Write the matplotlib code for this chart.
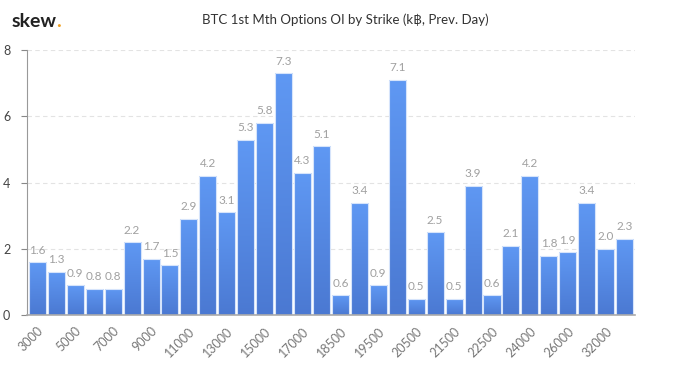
import numpy as np
import matplotlib
matplotlib.use("Agg")
from matplotlib import pyplot as plt
from matplotlib.colors import LinearSegmentedColormap

plt.rcParams['font.family'] = ['Lato', 'DejaVu Sans']

strikes = ["3000", "4000", "5000", "6000", "7000", "8000", "9000", "10000",
           "11000", "12000", "13000", "14000", "15000", "16000", "17000", "18000",
           "18500", "19000", "19500", "20000", "20500", "21000", "21500", "22000",
           "22500", "23000", "24000", "25000", "26000", "28000", "32000", "36000"]
oi = [1.6, 1.3, 0.9, 0.8, 0.8, 2.2, 1.7, 1.5, 2.9, 4.2, 3.1, 5.3, 5.8, 7.3, 4.3, 5.1,
      0.6, 3.4, 0.9, 7.1, 0.5, 2.5, 0.5, 3.9, 0.6, 2.1, 4.2, 1.8, 1.9, 3.4, 2.0, 2.3]
title = "BTC 1st Mth Options OI by Strike (k\u0E3F, Prev. Day)"

fig = plt.figure(figsize=(6.91, 3.66), dpi=100)
ax = fig.add_axes([0.039, 0.139, 0.880, 0.724])

x = np.arange(len(strikes))
bars = ax.bar(x, oi, width=0.9, color="#5b91ec", linewidth=0, zorder=2)

# vertical gradient inside each bar, lighter at the top
cmap = LinearSegmentedColormap.from_list("g", ["#4b79d2", "#5f98f3"])
grad = np.linspace(0, 1, 100).reshape(-1, 1)
for b in bars:
    bx, w, h = b.get_x(), b.get_width(), b.get_height()
    im = ax.imshow(grad, cmap=cmap, origin="lower", aspect="auto",
                   extent=[bx, bx + w, 0, h], zorder=2.5)
    im.set_clip_path(b)
ax.bar(x, oi, width=0.9, facecolor="none", edgecolor="#d6e4fb", linewidth=0.8, zorder=2.8)

for xi, v in zip(x, oi):
    ax.text(xi, v + 0.2, f"{v:.1f}", ha="center", va="bottom", fontsize=8.5, color="#a0a0a0", zorder=3)

ax.set_xlim(-0.55, len(strikes) - 0.45)
ax.set_ylim(0, 8)
ax.set_yticks([0, 2, 4, 6, 8])
ax.yaxis.grid(True, linestyle=(0, (4, 3)), color="#e3e3e3", linewidth=0.8, zorder=0)
ax.set_xticks(x[::2])
ax.set_xticklabels(strikes[::2], rotation=45, ha="right", rotation_mode="anchor",
                   fontsize=9, color="#777777")
ax.tick_params(axis="x", length=0, pad=7)
ax.tick_params(axis="y", length=4, color="#888888", labelsize=9, labelcolor="#444444", pad=8)
for s in ["top", "right"]:
    ax.spines[s].set_visible(False)
ax.spines["left"].set_color("#999999")
ax.spines["bottom"].set_color("#aaaaaa")
ax.spines["left"].set_linewidth(0.8)
ax.spines["bottom"].set_linewidth(1.2)
ax.spines["bottom"].set_zorder(4)

fig.text(0.5, 0.945, title, ha="center", va="center", fontsize=9.5, color="#333333")
fig.text(0.017, 0.94, "skew", ha="left", va="center", fontsize=14, fontweight="bold", color="#222222")
fig.text(0.081, 0.94, ".", ha="left", va="center", fontsize=14, fontweight="bold", color="#f0a020")

fig.savefig("out.png", dpi=100)
